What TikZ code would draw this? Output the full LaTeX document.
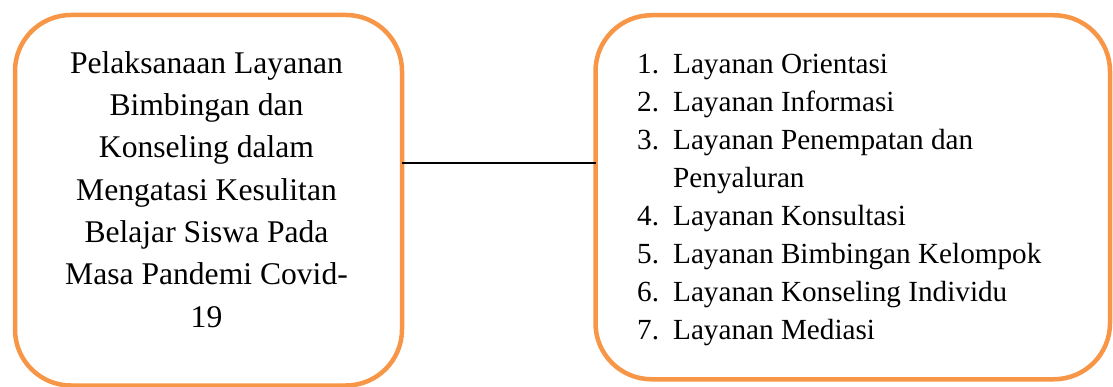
\documentclass[tikz,border=0pt]{standalone}
\usepackage{fontspec}
\setmainfont{Liberation Serif}
\usetikzlibrary{calc}
\definecolor{boxorange}{HTML}{F79646}
\begin{document}
\begin{tikzpicture}[x=1pt,y=-1pt,
  roundbox/.style={draw=boxorange, line width=4.5pt, rounded corners=56pt,
    inner sep=0pt, outer sep=0pt, fill=none},
  connector/.style={draw=black, line width=2pt},
  lefttext/.style={inner sep=0pt, anchor=base, font=\fontsize{31.6pt}{42.3pt}\selectfont},
  listtext/.style={inner sep=0pt, anchor=base west, font=\fontsize{29.2pt}{38.1pt}\selectfont}]
\useasboundingbox (0,0) rectangle (1113,387);
\node[roundbox, minimum width=387pt, minimum height=370.5pt] (lbox) at (208.5,200.25) {};
\node[roundbox, minimum width=514.5pt, minimum height=364pt] (rbox) at (852.75,197.25) {};
\node[lefttext] (ltxt) at (206.5,73.3) {\begin{tabular}[t]{@{}c@{}}
Pelaksanaan Layanan\\
Bimbingan dan\\
Konseling dalam\\
Mengatasi Kesulitan\\
Belajar Siswa Pada\\
Masa Pandemi Covid-\\
19\end{tabular}};
\node[listtext] (rtxt) at (637,73.3) {\begin{tabular}[t]{@{}l@{}l@{}}
\makebox[36pt][l]{1.} & Layanan Orientasi\\
\makebox[36pt][l]{2.} & Layanan Informasi\\
\makebox[36pt][l]{3.} & Layanan Penempatan dan\\
\makebox[36pt][l]{} & Penyaluran\\
\makebox[36pt][l]{4.} & Layanan Konsultasi\\
\makebox[36pt][l]{5.} & Layanan Bimbingan Kelompok\\
\makebox[36pt][l]{6.} & Layanan Konseling Individu\\
\makebox[36pt][l]{7.} & Layanan Mediasi
\end{tabular}};
\coordinate (cstart) at ($(lbox.north east)!0.3992!(lbox.south east)$);
\draw[connector] (cstart) -- (cstart -| rbox.west);
\end{tikzpicture}
\end{document}
